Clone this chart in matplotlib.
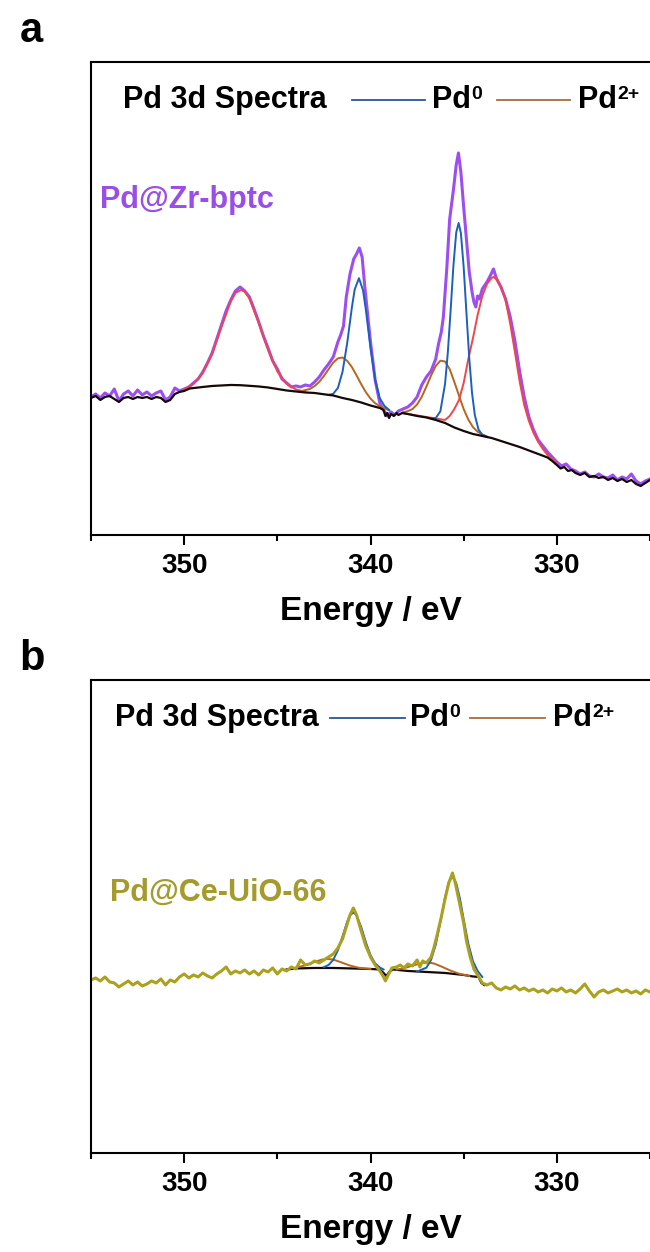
import matplotlib.pyplot as plt

plt.rcParams['font.family'] = ['Liberation Sans', 'DejaVu Sans']
plt.rcParams['font.weight'] = 'bold'

# ---------------- panel a : Pd@Zr-bptc ----------------
raw_a_E = [355.0, 354.75, 354.5, 354.25, 354.0, 353.75, 353.5, 353.25, 353.0, 352.75,
           352.5, 352.25, 352.0, 351.75, 351.5, 351.25, 351.0, 350.75, 350.5, 350.25,
           350.0, 349.75, 349.5, 349.25, 349.0, 348.75, 348.5, 348.25, 348.0, 347.75,
           347.5, 347.25, 347.0, 346.75, 346.5, 346.25, 346.0, 345.75, 345.5, 345.25,
           345.0, 344.75, 344.5, 344.25, 344.0, 343.75, 343.5, 343.25, 343.0, 342.75,
           342.5, 342.25, 342.0, 341.75, 341.6, 341.45, 341.3, 341.1, 340.9, 340.75,
           340.6, 340.45, 340.3, 340.15, 340.0, 339.75, 339.5, 339.3, 339.1, 338.9,
           338.7, 338.5, 338.25, 338.0, 337.75, 337.5, 337.25, 337.0, 336.75, 336.5,
           336.35, 336.2, 336.09, 335.9, 335.75, 335.55, 335.4, 335.28, 335.15, 335.0,
           334.85, 334.7, 334.55, 334.45, 334.35, 334.25, 334.15, 334.0, 333.75, 333.55,
           333.4, 333.25, 333.0, 332.75, 332.5, 332.25, 332.0, 331.75, 331.5, 331.25,
           331.0, 330.75, 330.5, 330.25, 330.0, 329.75, 329.5, 329.25, 329.0, 328.75,
           328.5, 328.25, 328.0, 327.75, 327.5, 327.25, 327.0, 326.75, 326.5, 326.25,
           326.0, 325.75, 325.5, 325.25, 325.0]
raw_a_I = [140, 143, 139, 144, 141, 148, 136, 143, 146, 141,
           147, 142, 145, 141, 144, 146, 137, 140, 149, 146,
           148, 150, 154, 158, 165, 174, 184, 198, 212, 226,
           237, 246, 250, 246, 240, 228, 215, 201, 189, 176,
           168, 158, 154, 150, 151, 150, 152, 151, 155, 160,
           167, 173, 180, 195, 202, 211, 240, 263, 278, 283,
           289, 280, 249, 222, 195, 157, 134, 127, 121, 125,
           122, 126, 128, 130, 134, 140, 152, 160, 166, 178,
           193, 205, 220, 270, 318, 347, 372, 384, 365, 330,
           297, 265, 245, 235, 230, 241, 238, 248, 255, 262,
           268, 259, 250, 238, 220, 196, 166, 140, 120, 107,
           97, 91, 85, 80, 75, 71, 73, 68, 66, 63,
           65, 61, 60, 63, 60, 59, 62, 57, 60, 58,
           63, 56, 53, 56, 58]

bg_a_E = [355.0, 354.75, 354.5, 354.25, 354.0, 353.75, 353.5, 353.25, 353.0, 352.75,
          352.5, 352.25, 352.0, 351.75, 351.5, 351.25, 351.0, 350.75, 350.5, 350.25,
          350.0, 349.7, 349.0, 348.5, 348.0, 347.5, 347.0, 346.6, 346.0, 345.5,
          345.0, 344.5, 344.0, 343.5, 343.0, 342.5, 342.0, 341.5, 341.0, 340.5,
          340.0, 339.5, 339.3, 339.2, 339.1, 339.0, 338.9, 338.75, 338.6, 338.5,
          338.3, 338.0, 337.5, 337.0, 336.5, 336.0, 335.5, 335.0, 334.5, 334.0,
          333.5, 333.0, 332.5, 332.0, 331.5, 331.0, 330.5, 330.25, 330.0, 329.8,
          329.6, 329.4, 329.2, 329.0, 328.75, 328.5, 328.25, 328.0, 327.75, 327.5,
          327.25, 327.0, 326.75, 326.5, 326.25, 326.0, 325.75, 325.5, 325.25, 325.0]
bg_a_I = [139, 141, 137, 140, 141, 138, 135, 139, 140, 138,
          140, 139, 140, 138, 140, 139, 135, 137, 143, 145,
          146, 148.5, 150, 151, 151.5, 152, 151.8, 151.3, 150.5, 149.5,
          148, 146.5, 145.5, 144.5, 144, 142.7, 141.5, 139, 137, 134.5,
          131.5, 129, 127, 121, 124, 119, 123, 121, 124, 122,
          124, 123, 121, 119.5, 117, 114, 109.5, 106, 103, 101,
          99, 96, 93, 90, 86.5, 83, 79.5, 76, 72, 68.5,
          70, 66, 67, 64, 62, 64, 60, 61, 59, 60,
          57, 59, 56, 58, 55, 57, 53, 51, 54, 57]

# Zr 3p components (red)
red1_E = [350.0, 349.5, 349.0, 348.5, 348.0, 347.5, 347.25, 346.95, 346.75, 346.5,
          346.0, 345.5, 345.0, 344.5, 344.0, 343.5]
red1_I = [147.5, 153, 164, 183, 210, 235.5, 244, 247, 245.3, 238.6,
          214.5, 187.3, 165.6, 153.1, 147.5, 145]
red2_E = [338.25, 338.0, 337.5, 337.0, 336.5, 336.0, 335.75, 335.5, 335.25, 335.0,
          334.75, 334.5, 334.25, 334.0, 333.75, 333.5, 333.4, 333.25, 333.0, 332.75,
          332.5, 332.25, 332.0, 331.75, 331.5, 331.25, 331.0, 330.75, 330.5, 330.25, 330.0]
red2_I = [123.8, 123, 121.5, 120, 118.5, 117, 121, 128, 137, 154,
          178, 199, 222, 241, 253, 259, 260, 258, 250, 237,
          213, 185, 156, 132, 116, 104, 95, 88, 82, 78, 73]

# Pd0 components (blue)
pd0_a1_E = [342.25, 342.0, 341.75, 341.5, 341.25, 341.0, 340.85, 340.62, 340.4, 340.25,
            340.0, 339.75, 339.5, 339.25, 339.0]
pd0_a1_I = [142, 143.2, 149, 165.3, 194, 229.4, 247.4, 258.8, 246.6, 227.3,
            189, 157.3, 138.7, 131, 127]
pd0_a2_E = [336.75, 336.5, 336.25, 336.0, 335.85, 335.7, 335.55, 335.4, 335.27, 335.15,
            335.0, 334.85, 334.7, 334.55, 334.4, 334.2, 334.0, 333.75]
pd0_a2_I = [118.7, 118.8, 125.7, 153, 184.5, 226.6, 271.3, 304.5, 314, 304,
            270, 223.7, 178.6, 143.8, 121.8, 107.3, 102.3, 100]

# Pd2+ components (brown)
pd2_a1_E = [343.75, 343.25, 343.0, 342.75, 342.5, 342.25, 342.0, 341.75, 341.5, 341.25,
            341.0, 340.75, 340.5, 340.25, 340.0, 339.75, 339.5, 339.25, 339.0]
pd2_a1_I = [145.8, 148, 150.9, 155.1, 161, 167.8, 174.4, 178.6, 179.5, 176.1,
            169.9, 161.6, 152.8, 144.8, 138.4, 133.7, 130.8, 128.8, 126.5]
pd2_a2_E = [338.25, 338.0, 337.75, 337.5, 337.25, 337.0, 336.75, 336.5, 336.25, 336.0,
            335.75, 335.5, 335.25, 335.0, 334.75, 334.5, 334.25, 334.0, 333.75]
pd2_a2_I = [124.7, 125.8, 127.9, 132.5, 140.1, 150.4, 161.4, 171, 176.3, 175.5,
            167.8, 155, 141.3, 127.9, 117.4, 109.8, 105.2, 102.4, 100.5]

# ---------------- panel b : Pd@Ce-UiO-66 ----------------
raw_b_E = [355.0, 354.75, 354.5, 354.25, 354.0, 353.75, 353.5, 353.25, 353.0, 352.75,
           352.5, 352.25, 352.0, 351.75, 351.5, 351.25, 351.0, 350.75, 350.5, 350.25,
           350.0, 349.75, 349.5, 349.25, 349.0, 348.75, 348.5, 348.25, 348.0, 347.75,
           347.5, 347.25, 347.0, 346.75, 346.5, 346.25, 346.0, 345.75, 345.5, 345.25,
           345.0, 344.75, 344.5, 344.25, 344.0, 343.75, 343.5, 343.25, 343.0, 342.75,
           342.5, 342.25, 342.0, 341.75, 341.5, 341.3, 341.1, 340.92, 340.75, 340.5,
           340.25, 340.0, 339.75, 339.5, 339.3, 339.2, 339.05, 338.85, 338.6, 338.4,
           338.2, 338.0, 337.75, 337.5, 337.35, 337.2, 337.0, 336.75, 336.6, 336.4,
           336.2, 336.0, 335.8, 335.6, 335.45, 335.25, 335.0, 334.85, 334.65, 334.45,
           334.25, 334.0, 333.75, 333.5, 333.25, 333.0, 332.75, 332.5, 332.25, 332.0,
           331.75, 331.5, 331.25, 331.0, 330.75, 330.5, 330.25, 330.0, 329.75, 329.5,
           329.25, 329.0, 328.75, 328.5, 328.25, 328.0, 327.75, 327.5, 327.25, 327.0,
           326.75, 326.5, 326.25, 326.0, 325.75, 325.5, 325.25, 325.0]
raw_b_I = [173, 175, 172, 176, 171, 170, 166, 169, 172, 168,
           171, 167, 169, 172, 170, 174, 168, 173, 171, 176,
           179, 175, 178, 176, 180, 177, 175, 179, 182, 186,
           179, 182, 180, 183, 179, 182, 178, 183, 181, 185,
           179, 184, 182, 186, 184, 193, 188, 189, 192, 190,
           193, 196, 199, 205, 214, 226, 238, 245, 238, 222,
           207, 196, 188, 182, 176, 172, 178, 185, 186, 188,
           185, 189, 187, 193, 186, 192, 190, 196, 205, 220,
           236, 254, 270, 280, 270, 252, 230, 212, 196, 184,
           178, 170, 168, 170, 165, 163, 166, 164, 167, 163,
           165, 162, 164, 161, 163, 160, 164, 162, 165, 161,
           163, 160, 164, 169, 162, 156, 161, 163, 160, 162,
           164, 161, 163, 160, 162, 159, 163, 161]

bg_b_E = [344.5, 344.0, 343.0, 342.0, 341.0, 340.0, 339.5, 339.3, 339.15, 339.0,
          338.8, 338.0, 337.0, 336.0, 335.0, 334.5, 334.2, 334.05, 333.9]
bg_b_I = [183.5, 184.5, 185, 185, 184.5, 184, 183.5, 180, 177, 181,
          183.5, 182, 181, 180, 178, 176.5, 176, 170, 168]

pd0_b1_E = [342.5, 342.25, 342.0, 341.75, 341.5, 341.25, 341.1, 340.92, 340.75, 340.5,
            340.25, 340.0, 339.75, 339.5, 339.3]
pd0_b1_I = [185.9, 188, 193.1, 202.7, 216.8, 231.4, 237.6, 240.5, 237.7, 226,
            210.8, 197.8, 189.6, 185.5, 183.5]
pd0_b2_E = [337.5, 337.0, 336.75, 336.5, 336.25, 336.0, 335.8, 335.6, 335.4, 335.2,
            335.0, 334.75, 334.5, 334.25, 334.0]
pd0_b2_I = [181.4, 185.3, 193, 208, 230.7, 255.6, 270.8, 276.5, 270, 254.4,
            233.8, 209.2, 191.7, 182, 176]

pd2_b1_E = [344.0, 343.5, 343.0, 342.6, 342.3, 342.0, 341.6, 341.1, 340.6, 340.0]
pd2_b1_I = [185.4, 187.7, 191.1, 193.4, 194, 193.4, 190.8, 187.4, 185.1, 184]
pd2_b2_E = [338.6, 338.1, 337.6, 337.2, 336.9, 336.6, 336.2, 335.7, 335.2, 334.7]
pd2_b2_I = [183.3, 185.3, 188.1, 190.1, 190.5, 189.5, 186.5, 182.3, 179, 177]

PURPLE = '#9d4ef2'
OLIVE = '#aaa21e'
RED = '#f0454a'
BLUE = '#1c5fbd'
BROWN = '#b5661f'
BLACK = '#140808'


def style_axis(ax, ylim):
    ax.set_xlim(355, 325)
    ax.set_ylim(*ylim)
    ax.set_xticks([350, 340, 330])
    ax.set_xticks([355, 345, 335, 325], minor=True)
    ax.set_yticks([])
    ax.spines['right'].set_visible(False)
    for side in ('left', 'bottom', 'top'):
        ax.spines[side].set_linewidth(1.5)
    ax.tick_params(axis='x', which='major', direction='out', length=7, width=1.5,
                   labelsize=20, pad=6)
    ax.tick_params(axis='x', which='minor', direction='out', length=4, width=1.5)
    ax.set_xlabel('Energy / eV', fontsize=24, fontweight='bold', labelpad=12)


def draw_key(ax, x_text, x_blue, x_pd0, x_brown, x_pd2, y=0.92):
    kw = dict(transform=ax.transAxes, fontsize=22, fontweight='bold', va='center')
    ax.text(x_text, y, 'Pd 3d Spectra', **kw)
    ax.plot(x_blue, [y, y], transform=ax.transAxes, color='#2a5499', lw=1.3)
    t0 = ax.text(x_pd0, y, 'Pd', **kw)
    ax.annotate('0', xy=(1, 1), xycoords=t0, xytext=(0.5, -1), textcoords='offset points',
                fontsize=14, fontweight='bold', ha='left', va='top')
    ax.plot(x_brown, [y, y], transform=ax.transAxes, color='#a86b3c', lw=1.3)
    t2 = ax.text(x_pd2, y, 'Pd', **kw)
    ax.annotate('2+', xy=(1, 1), xycoords=t2, xytext=(0.5, -1), textcoords='offset points',
                fontsize=14, fontweight='bold', ha='left', va='top')


fig = plt.figure(figsize=(6.5, 12.52), dpi=100)
ax_a = fig.add_axes([0.14, 0.5727, 0.86, 0.3778])
ax_b = fig.add_axes([0.14, 0.0791, 0.86, 0.3778])

# panel a
ax_a.plot(raw_a_E, raw_a_I, color=PURPLE, lw=2.2)
ax_a.plot(red1_E, red1_I, color=RED, lw=1.4)
ax_a.plot(red2_E, red2_I, color=RED, lw=1.4)
ax_a.plot(pd2_a1_E, pd2_a1_I, color=BROWN, lw=1.4)
ax_a.plot(pd2_a2_E, pd2_a2_I, color=BROWN, lw=1.4)
ax_a.plot(pd0_a1_E, pd0_a1_I, color=BLUE, lw=1.4)
ax_a.plot(pd0_a2_E, pd0_a2_I, color=BLUE, lw=1.4)
ax_a.plot(bg_a_E, bg_a_I, color=BLACK, lw=1.6)
style_axis(ax_a, (2, 475))
draw_key(ax_a, 0.057, [0.467, 0.597], 0.61, [0.726, 0.857], 0.871)
ax_a.text(0.016, 0.708, 'Pd@Zr-bptc', transform=ax_a.transAxes, color='#9a4ee8',
          fontsize=22, fontweight='bold', va='center')

# panel b
ax_b.plot(bg_b_E, bg_b_I, color=BLACK, lw=1.6)
ax_b.plot(pd2_b1_E, pd2_b1_I, color=BROWN, lw=1.4)
ax_b.plot(pd2_b2_E, pd2_b2_I, color=BROWN, lw=1.4)
ax_b.plot(pd0_b1_E, pd0_b1_I, color=BLUE, lw=1.4)
ax_b.plot(pd0_b2_E, pd0_b2_I, color=BLUE, lw=1.4)
ax_b.plot(raw_b_E, raw_b_I, color=OLIVE, lw=2.2)
style_axis(ax_b, (0, 473))
draw_key(ax_b, 0.043, [0.428, 0.562], 0.5707, [0.678, 0.812], 0.8265)
ax_b.text(0.034, 0.55, 'Pd@Ce-UiO-66', transform=ax_b.transAxes, color='#a59b2c',
          fontsize=22, fontweight='bold', va='center')

fig.text(0.03, 0.975, 'a', fontsize=30, fontweight='bold', va='center')
fig.text(0.03, 0.474, 'b', fontsize=30, fontweight='bold', va='center')

fig.savefig('out.png', dpi=100)
